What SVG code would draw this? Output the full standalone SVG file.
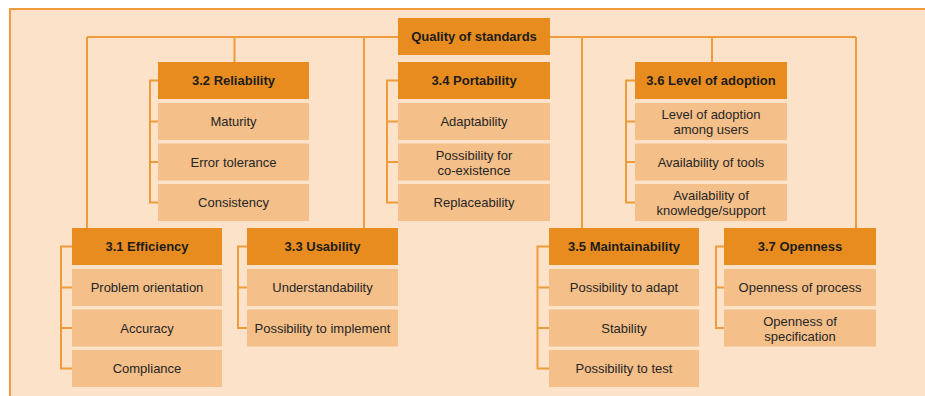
<svg xmlns="http://www.w3.org/2000/svg" width="925" height="396" viewBox="0 0 925 396">
<style>
.h{fill:#E98C1F}
.i{fill:#F4BF88}
.ht{font-family:"Liberation Sans",Arial,sans-serif;font-size:13px;font-weight:bold;fill:#1c1c1c;text-anchor:middle}
.it{font-family:"Liberation Sans",Arial,sans-serif;font-size:13px;fill:#262626;text-anchor:middle}
.c{fill:none;stroke:#EE9B3C;stroke-width:2}
</style>
<rect x="0" y="0" width="925" height="396" fill="#ffffff"/>
<rect x="10" y="9" width="920" height="392" fill="#FCE2C9" stroke="#EE9B3C" stroke-width="2"/>
<g id="connectors">
<path class="c" d="M87 37H856M87 37V228M234.5 37V62M364 37V228M582 37V228M712 37V62M856 37V228"/>
<path class="c" d="M72 246.5H61V368.5H72M61 287.5H72M61 328H72"/>
<path class="c" d="M158 80.5H150V202.5H158M150 121.5H158M150 162H158"/>
<path class="c" d="M247 246.5H238V328H247M238 287.5H247"/>
<path class="c" d="M398 80.5H387V202.5H398M387 121.5H398M387 162H398"/>
<path class="c" d="M549 246.5H537.5V368.5H549M537.5 287.5H549M537.5 328H549"/>
<path class="c" d="M635 80.5H626V202.5H635M626 121.5H635M626 162H635"/>
<path class="c" d="M724 246.5H716V328H724M716 287.5H724"/>
</g>
<g id="root"><rect class="h" x="398" y="18" width="152" height="37"/><text class="ht" x="474" y="41">Quality of standards</text></g>
<g id="efficiency">
<rect class="h" x="72" y="228" width="150" height="37"/><text class="ht" x="147" y="251">3.1 Efficiency</text>
<rect class="i" x="72" y="269" width="150" height="37"/><text class="it" x="147" y="292">Problem orientation</text>
<rect class="i" x="72" y="309.5" width="150" height="37"/><text class="it" x="147" y="332.5">Accuracy</text>
<rect class="i" x="72" y="350" width="150" height="37"/><text class="it" x="147" y="373">Compliance</text>
</g>
<g id="reliability">
<rect class="h" x="158" y="62" width="151" height="37"/><text class="ht" x="233.5" y="85">3.2 Reliability</text>
<rect class="i" x="158" y="103" width="151" height="37"/><text class="it" x="233.5" y="126">Maturity</text>
<rect class="i" x="158" y="143.5" width="151" height="37"/><text class="it" x="233.5" y="166.5">Error tolerance</text>
<rect class="i" x="158" y="184" width="151" height="37"/><text class="it" x="233.5" y="207">Consistency</text>
</g>
<g id="usability">
<rect class="h" x="247" y="228" width="151" height="37"/><text class="ht" x="322.5" y="251">3.3 Usability</text>
<rect class="i" x="247" y="269" width="151" height="37"/><text class="it" x="322.5" y="292">Understandability</text>
<rect class="i" x="247" y="309.5" width="151" height="37"/><text class="it" x="322.5" y="332.5">Possibility to implement</text>
</g>
<g id="portability">
<rect class="h" x="398" y="62" width="152" height="37"/><text class="ht" x="474" y="85">3.4 Portability</text>
<rect class="i" x="398" y="103" width="152" height="37"/><text class="it" x="474" y="126">Adaptability</text>
<rect class="i" x="398" y="143.5" width="152" height="37"/><text class="it" x="474" y="159.5">Possibility for</text><text class="it" x="474" y="174.5">co-existence</text>
<rect class="i" x="398" y="184" width="152" height="37"/><text class="it" x="474" y="207">Replaceability</text>
</g>
<g id="maintainability">
<rect class="h" x="549" y="228" width="150" height="37"/><text class="ht" x="624" y="251">3.5 Maintainability</text>
<rect class="i" x="549" y="269" width="150" height="37"/><text class="it" x="624" y="292">Possibility to adapt</text>
<rect class="i" x="549" y="309.5" width="150" height="37"/><text class="it" x="624" y="332.5">Stability</text>
<rect class="i" x="549" y="350" width="150" height="37"/><text class="it" x="624" y="373">Possibility to test</text>
</g>
<g id="adoption">
<rect class="h" x="635" y="62" width="152" height="37"/><text class="ht" x="711" y="85">3.6 Level of adoption</text>
<rect class="i" x="635" y="103" width="152" height="37"/><text class="it" x="711" y="118.5">Level of adoption</text><text class="it" x="711" y="133.5">among users</text>
<rect class="i" x="635" y="143.5" width="152" height="37"/><text class="it" x="711" y="166.5">Availability of tools</text>
<rect class="i" x="635" y="184" width="152" height="37"/><text class="it" x="711" y="200">Availability of</text><text class="it" x="711" y="215">knowledge/support</text>
</g>
<g id="openness">
<rect class="h" x="724" y="228" width="152" height="37"/><text class="ht" x="800" y="251">3.7 Openness</text>
<rect class="i" x="724" y="269" width="152" height="37"/><text class="it" x="800" y="292">Openness of process</text>
<rect class="i" x="724" y="309.5" width="152" height="37"/><text class="it" x="800" y="325.5">Openness of</text><text class="it" x="800" y="340.5">specification</text>
</g>
</svg>
